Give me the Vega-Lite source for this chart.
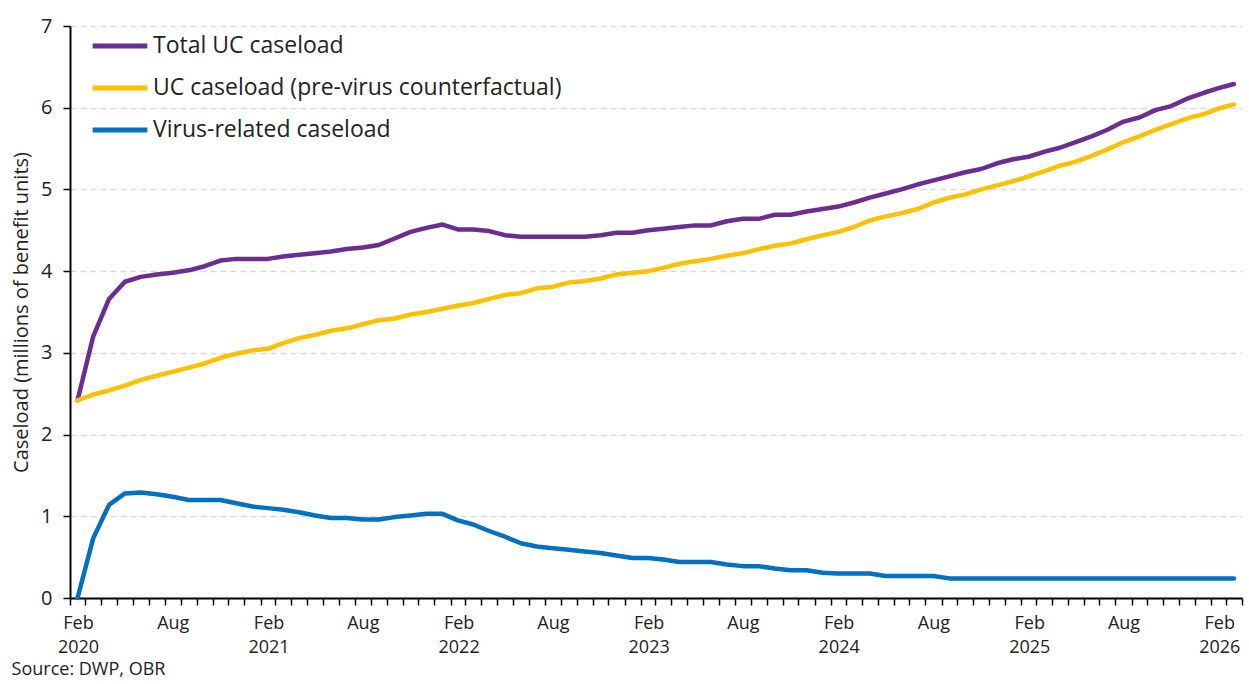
{
  "$schema": "https://vega.github.io/schema/vega-lite/v6.json",
  "width": 1172,
  "height": 572,
  "autosize": {"type": "none"},
  "padding": {"left": 70, "top": 26, "right": 7, "bottom": 86},
  "config": {"font": "Open Sans", "view": {"stroke": null}},
  "title": {"text": "Source: DWP, OBR", "orient": "bottom", "anchor": "start", "frame": "bounds", "fontSize": 18, "fontWeight": "normal", "color": "#222222", "offset": 5},
  "data": {"values": [
    {"month": "2020-02-01", "Total UC caseload": 2.42, "UC caseload (pre-virus counterfactual)": 2.42, "Virus-related caseload": 0.00},
    {"month": "2020-03-01", "Total UC caseload": 3.20, "UC caseload (pre-virus counterfactual)": 2.49, "Virus-related caseload": 0.73},
    {"month": "2020-04-01", "Total UC caseload": 3.66, "UC caseload (pre-virus counterfactual)": 2.54, "Virus-related caseload": 1.14},
    {"month": "2020-05-01", "Total UC caseload": 3.87, "UC caseload (pre-virus counterfactual)": 2.60, "Virus-related caseload": 1.28},
    {"month": "2020-06-01", "Total UC caseload": 3.93, "UC caseload (pre-virus counterfactual)": 2.67, "Virus-related caseload": 1.29},
    {"month": "2020-07-01", "Total UC caseload": 3.96, "UC caseload (pre-virus counterfactual)": 2.72, "Virus-related caseload": 1.27},
    {"month": "2020-08-01", "Total UC caseload": 3.98, "UC caseload (pre-virus counterfactual)": 2.77, "Virus-related caseload": 1.24},
    {"month": "2020-09-01", "Total UC caseload": 4.01, "UC caseload (pre-virus counterfactual)": 2.82, "Virus-related caseload": 1.20},
    {"month": "2020-10-01", "Total UC caseload": 4.06, "UC caseload (pre-virus counterfactual)": 2.87, "Virus-related caseload": 1.20},
    {"month": "2020-11-01", "Total UC caseload": 4.13, "UC caseload (pre-virus counterfactual)": 2.94, "Virus-related caseload": 1.20},
    {"month": "2020-12-01", "Total UC caseload": 4.15, "UC caseload (pre-virus counterfactual)": 2.99, "Virus-related caseload": 1.16},
    {"month": "2021-01-01", "Total UC caseload": 4.15, "UC caseload (pre-virus counterfactual)": 3.03, "Virus-related caseload": 1.12},
    {"month": "2021-02-01", "Total UC caseload": 4.15, "UC caseload (pre-virus counterfactual)": 3.05, "Virus-related caseload": 1.10},
    {"month": "2021-03-01", "Total UC caseload": 4.18, "UC caseload (pre-virus counterfactual)": 3.12, "Virus-related caseload": 1.08},
    {"month": "2021-04-01", "Total UC caseload": 4.20, "UC caseload (pre-virus counterfactual)": 3.18, "Virus-related caseload": 1.05},
    {"month": "2021-05-01", "Total UC caseload": 4.22, "UC caseload (pre-virus counterfactual)": 3.22, "Virus-related caseload": 1.01},
    {"month": "2021-06-01", "Total UC caseload": 4.24, "UC caseload (pre-virus counterfactual)": 3.27, "Virus-related caseload": 0.98},
    {"month": "2021-07-01", "Total UC caseload": 4.27, "UC caseload (pre-virus counterfactual)": 3.30, "Virus-related caseload": 0.98},
    {"month": "2021-08-01", "Total UC caseload": 4.29, "UC caseload (pre-virus counterfactual)": 3.35, "Virus-related caseload": 0.96},
    {"month": "2021-09-01", "Total UC caseload": 4.32, "UC caseload (pre-virus counterfactual)": 3.40, "Virus-related caseload": 0.96},
    {"month": "2021-10-01", "Total UC caseload": 4.40, "UC caseload (pre-virus counterfactual)": 3.42, "Virus-related caseload": 0.99},
    {"month": "2021-11-01", "Total UC caseload": 4.48, "UC caseload (pre-virus counterfactual)": 3.47, "Virus-related caseload": 1.01},
    {"month": "2021-12-01", "Total UC caseload": 4.53, "UC caseload (pre-virus counterfactual)": 3.50, "Virus-related caseload": 1.03},
    {"month": "2022-01-01", "Total UC caseload": 4.57, "UC caseload (pre-virus counterfactual)": 3.54, "Virus-related caseload": 1.03},
    {"month": "2022-02-01", "Total UC caseload": 4.51, "UC caseload (pre-virus counterfactual)": 3.58, "Virus-related caseload": 0.95},
    {"month": "2022-03-01", "Total UC caseload": 4.51, "UC caseload (pre-virus counterfactual)": 3.61, "Virus-related caseload": 0.90},
    {"month": "2022-04-01", "Total UC caseload": 4.49, "UC caseload (pre-virus counterfactual)": 3.66, "Virus-related caseload": 0.82},
    {"month": "2022-05-01", "Total UC caseload": 4.44, "UC caseload (pre-virus counterfactual)": 3.71, "Virus-related caseload": 0.75},
    {"month": "2022-06-01", "Total UC caseload": 4.42, "UC caseload (pre-virus counterfactual)": 3.73, "Virus-related caseload": 0.67},
    {"month": "2022-07-01", "Total UC caseload": 4.42, "UC caseload (pre-virus counterfactual)": 3.79, "Virus-related caseload": 0.63},
    {"month": "2022-08-01", "Total UC caseload": 4.42, "UC caseload (pre-virus counterfactual)": 3.81, "Virus-related caseload": 0.61},
    {"month": "2022-09-01", "Total UC caseload": 4.42, "UC caseload (pre-virus counterfactual)": 3.86, "Virus-related caseload": 0.59},
    {"month": "2022-10-01", "Total UC caseload": 4.42, "UC caseload (pre-virus counterfactual)": 3.88, "Virus-related caseload": 0.57},
    {"month": "2022-11-01", "Total UC caseload": 4.44, "UC caseload (pre-virus counterfactual)": 3.91, "Virus-related caseload": 0.55},
    {"month": "2022-12-01", "Total UC caseload": 4.47, "UC caseload (pre-virus counterfactual)": 3.96, "Virus-related caseload": 0.52},
    {"month": "2023-01-01", "Total UC caseload": 4.47, "UC caseload (pre-virus counterfactual)": 3.98, "Virus-related caseload": 0.49},
    {"month": "2023-02-01", "Total UC caseload": 4.50, "UC caseload (pre-virus counterfactual)": 4.00, "Virus-related caseload": 0.49},
    {"month": "2023-03-01", "Total UC caseload": 4.52, "UC caseload (pre-virus counterfactual)": 4.04, "Virus-related caseload": 0.47},
    {"month": "2023-04-01", "Total UC caseload": 4.54, "UC caseload (pre-virus counterfactual)": 4.09, "Virus-related caseload": 0.44},
    {"month": "2023-05-01", "Total UC caseload": 4.56, "UC caseload (pre-virus counterfactual)": 4.12, "Virus-related caseload": 0.44},
    {"month": "2023-06-01", "Total UC caseload": 4.56, "UC caseload (pre-virus counterfactual)": 4.15, "Virus-related caseload": 0.44},
    {"month": "2023-07-01", "Total UC caseload": 4.61, "UC caseload (pre-virus counterfactual)": 4.19, "Virus-related caseload": 0.41},
    {"month": "2023-08-01", "Total UC caseload": 4.64, "UC caseload (pre-virus counterfactual)": 4.22, "Virus-related caseload": 0.39},
    {"month": "2023-09-01", "Total UC caseload": 4.64, "UC caseload (pre-virus counterfactual)": 4.27, "Virus-related caseload": 0.39},
    {"month": "2023-10-01", "Total UC caseload": 4.69, "UC caseload (pre-virus counterfactual)": 4.31, "Virus-related caseload": 0.36},
    {"month": "2023-11-01", "Total UC caseload": 4.69, "UC caseload (pre-virus counterfactual)": 4.34, "Virus-related caseload": 0.34},
    {"month": "2023-12-01", "Total UC caseload": 4.73, "UC caseload (pre-virus counterfactual)": 4.39, "Virus-related caseload": 0.34},
    {"month": "2024-01-01", "Total UC caseload": 4.76, "UC caseload (pre-virus counterfactual)": 4.44, "Virus-related caseload": 0.31},
    {"month": "2024-02-01", "Total UC caseload": 4.79, "UC caseload (pre-virus counterfactual)": 4.48, "Virus-related caseload": 0.30},
    {"month": "2024-03-01", "Total UC caseload": 4.84, "UC caseload (pre-virus counterfactual)": 4.54, "Virus-related caseload": 0.30},
    {"month": "2024-04-01", "Total UC caseload": 4.90, "UC caseload (pre-virus counterfactual)": 4.62, "Virus-related caseload": 0.30},
    {"month": "2024-05-01", "Total UC caseload": 4.95, "UC caseload (pre-virus counterfactual)": 4.67, "Virus-related caseload": 0.27},
    {"month": "2024-06-01", "Total UC caseload": 5.00, "UC caseload (pre-virus counterfactual)": 4.71, "Virus-related caseload": 0.27},
    {"month": "2024-07-01", "Total UC caseload": 5.06, "UC caseload (pre-virus counterfactual)": 4.76, "Virus-related caseload": 0.27},
    {"month": "2024-08-01", "Total UC caseload": 5.11, "UC caseload (pre-virus counterfactual)": 4.84, "Virus-related caseload": 0.27},
    {"month": "2024-09-01", "Total UC caseload": 5.16, "UC caseload (pre-virus counterfactual)": 4.90, "Virus-related caseload": 0.24},
    {"month": "2024-10-01", "Total UC caseload": 5.21, "UC caseload (pre-virus counterfactual)": 4.94, "Virus-related caseload": 0.24},
    {"month": "2024-11-01", "Total UC caseload": 5.25, "UC caseload (pre-virus counterfactual)": 5.00, "Virus-related caseload": 0.24},
    {"month": "2024-12-01", "Total UC caseload": 5.32, "UC caseload (pre-virus counterfactual)": 5.05, "Virus-related caseload": 0.24},
    {"month": "2025-01-01", "Total UC caseload": 5.37, "UC caseload (pre-virus counterfactual)": 5.10, "Virus-related caseload": 0.24},
    {"month": "2025-02-01", "Total UC caseload": 5.40, "UC caseload (pre-virus counterfactual)": 5.16, "Virus-related caseload": 0.24},
    {"month": "2025-03-01", "Total UC caseload": 5.46, "UC caseload (pre-virus counterfactual)": 5.22, "Virus-related caseload": 0.24},
    {"month": "2025-04-01", "Total UC caseload": 5.51, "UC caseload (pre-virus counterfactual)": 5.29, "Virus-related caseload": 0.24},
    {"month": "2025-05-01", "Total UC caseload": 5.58, "UC caseload (pre-virus counterfactual)": 5.34, "Virus-related caseload": 0.24},
    {"month": "2025-06-01", "Total UC caseload": 5.65, "UC caseload (pre-virus counterfactual)": 5.41, "Virus-related caseload": 0.24},
    {"month": "2025-07-01", "Total UC caseload": 5.73, "UC caseload (pre-virus counterfactual)": 5.49, "Virus-related caseload": 0.24},
    {"month": "2025-08-01", "Total UC caseload": 5.83, "UC caseload (pre-virus counterfactual)": 5.58, "Virus-related caseload": 0.24},
    {"month": "2025-09-01", "Total UC caseload": 5.88, "UC caseload (pre-virus counterfactual)": 5.65, "Virus-related caseload": 0.24},
    {"month": "2025-10-01", "Total UC caseload": 5.97, "UC caseload (pre-virus counterfactual)": 5.73, "Virus-related caseload": 0.24},
    {"month": "2025-11-01", "Total UC caseload": 6.02, "UC caseload (pre-virus counterfactual)": 5.80, "Virus-related caseload": 0.24},
    {"month": "2025-12-01", "Total UC caseload": 6.11, "UC caseload (pre-virus counterfactual)": 5.87, "Virus-related caseload": 0.24},
    {"month": "2026-01-01", "Total UC caseload": 6.18, "UC caseload (pre-virus counterfactual)": 5.92, "Virus-related caseload": 0.24},
    {"month": "2026-02-01", "Total UC caseload": 6.24, "UC caseload (pre-virus counterfactual)": 5.99, "Virus-related caseload": 0.24},
    {"month": "2026-03-01", "Total UC caseload": 6.29, "UC caseload (pre-virus counterfactual)": 6.04, "Virus-related caseload": 0.24}
  ]},
  "transform": [
    {"fold": ["Total UC caseload", "UC caseload (pre-virus counterfactual)", "Virus-related caseload"], "as": ["series", "value"]}
  ],
  "mark": {"type": "line", "strokeWidth": 4.5, "strokeCap": "round", "strokeJoin": "round"},
  "encoding": {
    "x": {
      "field": "month",
      "type": "temporal",
      "timeUnit": "utcyearmonth",
      "bandPosition": 0.5,
      "scale": {"domain": [{"year": 2020, "month": 2, "date": 1, "utc": true}, {"year": 2026, "month": 4, "date": 1, "utc": true}]},
      "axis": {
        "title": null,
        "grid": false,
        "tickCount": {"interval": "month", "step": 1},
        "labelExpr": "utcmonth(datum.value) == 1 ? ['Feb', utcFormat(datum.value, '%Y')] : (utcmonth(datum.value) == 7 ? 'Aug' : '')",
        "labelOffset": 8,
        "labelFlush": false,
        "labelOverlap": false,
        "labelFontSize": 18,
        "labelColor": "#222222",
        "labelPadding": 9,
        "labelLineHeight": 24,
        "domainColor": "#000000",
        "domainWidth": 2,
        "tickColor": "#000000",
        "tickWidth": 1.5,
        "tickSize": 7
      }
    },
    "y": {
      "field": "value",
      "type": "quantitative",
      "scale": {"domain": [0, 7], "nice": false},
      "axis": {
        "title": "Caseload (millions of benefit units)",
        "titleFontSize": 20,
        "titleFontWeight": "normal",
        "titleColor": "#222222",
        "titlePadding": 9,
        "values": [0, 1, 2, 3, 4, 5, 6, 7],
        "labelFontSize": 20,
        "labelColor": "#222222",
        "labelPadding": 11,
        "tickSize": 7,
        "tickColor": "#000000",
        "tickWidth": 1.5,
        "domainColor": "#000000",
        "domainWidth": 2,
        "gridColor": "#d9d9d9",
        "gridDash": [6, 4],
        "gridWidth": 1.5
      }
    },
    "color": {
      "field": "series",
      "type": "nominal",
      "scale": {
        "domain": ["Total UC caseload", "UC caseload (pre-virus counterfactual)", "Virus-related caseload"],
        "range": ["#6b2d91", "#ffc000", "#0070c0"]
      },
      "legend": {
        "orient": "none",
        "legendX": 20,
        "legendY": -10,
        "title": null,
        "symbolType": "stroke",
        "symbolSize": 3000,
        "symbolStrokeWidth": 5,
        "labelFontSize": 23,
        "labelColor": "#222222",
        "rowPadding": -14,
        "labelOffset": 3,
        "labelLimit": 600
      }
    }
  }
}
